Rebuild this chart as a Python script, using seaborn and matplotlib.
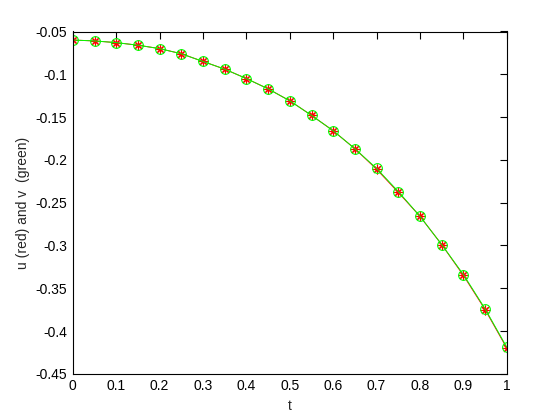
import matplotlib
matplotlib.use("Agg")
import matplotlib.pyplot as plt
import seaborn as sns
import pandas as pd

t = [0.0, 0.05, 0.1, 0.15, 0.2, 0.25, 0.3, 0.35, 0.4, 0.45, 0.5,
     0.55, 0.6, 0.65, 0.7, 0.75, 0.8, 0.85, 0.9, 0.95, 1.0]
u = [-0.060, -0.061, -0.063, -0.066, -0.070, -0.076, -0.085, -0.094, -0.105, -0.117, -0.131,
     -0.148, -0.166, -0.187, -0.211, -0.238, -0.266, -0.299, -0.335, -0.375, -0.420]
v = [-0.060, -0.061, -0.063, -0.066, -0.070, -0.076, -0.085, -0.094, -0.105, -0.117, -0.131,
     -0.148, -0.166, -0.187, -0.210, -0.237, -0.266, -0.299, -0.334, -0.374, -0.419]
xticks = [0, 0.1, 0.2, 0.3, 0.4, 0.5, 0.6, 0.7, 0.8, 0.9, 1]
xticklabels = ["0", "0.1", "0.2", "0.3", "0.4", "0.5", "0.6", "0.7", "0.8", "0.9", "1"]
yticks = [-0.45, -0.4, -0.35, -0.3, -0.25, -0.2, -0.15, -0.1, -0.05]
yticklabels = ["-0.45", "-0.4", "-0.35", "-0.3", "-0.25", "-0.2", "-0.15", "-0.1", "-0.05"]

df = pd.DataFrame({"t": t, "u": u, "v": v})

sns.set_style("white")
plt.rcParams['font.family'] = ['Liberation Sans', 'DejaVu Sans']

fig = plt.figure(figsize=(5.6, 4.2), dpi=100)
ax = fig.add_axes([0.13, 0.11, 0.775, 0.815])

sns.lineplot(data=df, x="t", y="u", ax=ax, color="red", linewidth=0.7,
             marker=(8, 2, 0), markersize=7, markeredgecolor="red",
             markeredgewidth=0.8)
sns.lineplot(data=df, x="t", y="v", ax=ax, color="#00ff00", linewidth=0.7,
             marker="o", markersize=7, markerfacecolor="none",
             markeredgecolor="#00ff00", markeredgewidth=0.8)

ax.set_xlim(0, 1)
ax.set_ylim(-0.45, -0.05)
ax.set_xticks(xticks)
ax.set_xticklabels(xticklabels)
ax.set_yticks(yticks)
ax.set_yticklabels(yticklabels)
ax.tick_params(direction="in", length=5, width=0.8, top=True, right=True,
               labelsize=10, colors="black", pad=4)
for s in ax.spines.values():
    s.set_visible(True)
    s.set_color("black")
    s.set_linewidth(0.8)
ax.set_xlabel("t", fontsize=10)
ax.set_ylabel("u (red) and v  (green)", fontsize=10)

fig.savefig("out.png", dpi=100, facecolor="white")
